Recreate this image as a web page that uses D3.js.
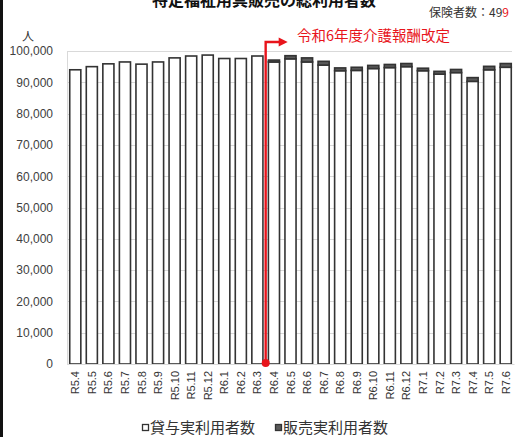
<!DOCTYPE html>
<html lang="ja">
<head>
<meta charset="utf-8">
<script src="https://cdn.jsdelivr.net/npm/d3@7"></script>
<style>
  html, body { margin: 0; padding: 0; background: #fff; }
  svg { display: block; }
</style>
</head>
<body>
<svg id="chart" width="524" height="437"></svg>
<script>
// Months (Reiwa year.month)
const categories = [
  "R5.4","R5.5","R5.6","R5.7","R5.8","R5.9","R5.10","R5.11","R5.12",
  "R6.1","R6.2","R6.3","R6.4","R6.5","R6.6","R6.7","R6.8","R6.9",
  "R6.10","R6.11","R6.12","R7.1","R7.2","R7.3","R7.4","R7.5","R7.6"
];
// 貸与実利用者数 (rental users)
const rentalUsers = [
  94000, 95000, 95900, 96500, 95800, 96500, 97800, 98400, 98700,
  97600, 97600, 98400, 96500, 97500, 96500, 95500, 93700, 93800,
  94400, 94700, 95000, 93700, 92600, 93100, 90300, 94000, 94800
];
// 販売実利用者数 (sales users)
const salesUsers = [
  0, 0, 0, 0, 0, 0, 0, 0, 0,
  0, 0, 0, 600, 1000, 1300, 1200, 900, 1000,
  1000, 1000, 1000, 800, 900, 1000, 1200, 1100, 1200
];
const yTicks = [0, 10000, 20000, 30000, 40000, 50000, 60000, 70000, 80000, 90000, 100000];
const seriesNames = ["貸与実利用者数", "販売実利用者数"];
const revisionMonth = "R6.4";

const JP = "'Noto Sans CJK JP', 'Noto Sans', sans-serif";
const NUM = "'Liberation Sans', Arial, sans-serif";
const RED = "#e8141b";

const svg = d3.select("#chart");

// Left frame edge
svg.append("rect").attr("x", 0).attr("y", 0).attr("width", 3).attr("height", 437).attr("fill", "#111");

// Title (runs off the top edge)
svg.append("text")
  .attr("x", 264).attr("y", 6)
  .attr("text-anchor", "middle")
  .attr("font-family", JP).attr("font-weight", "bold").attr("font-size", 16)
  .attr("fill", "#111")
  .text("特定福祉用具販売の総利用者数");

// Insurer count
const ins = svg.append("text")
  .attr("x", 509).attr("y", 17)
  .attr("text-anchor", "end")
  .attr("font-family", JP).attr("font-size", 12).attr("fill", "#333");
ins.append("tspan").text("保険者数：49");
ins.append("tspan").attr("fill", RED).text("9");

const x = d3.scaleBand().domain(categories).range([67, 514]).paddingInner(0.33).paddingOuter(0.165);
const y = d3.scaleLinear().domain([0, 100000]).range([364, 51]);

// Gridlines
svg.append("g")
  .selectAll("line").data(yTicks).join("line")
  .attr("x1", 67).attr("x2", 512)
  .attr("y1", d => Math.round(y(d)) + 0.5).attr("y2", d => Math.round(y(d)) + 0.5)
  .attr("stroke", "#d9d9d9").attr("stroke-width", 1);
svg.append("line")
  .attr("x1", 67.5).attr("x2", 67.5).attr("y1", y(100000)).attr("y2", y(0))
  .attr("stroke", "#d9d9d9");

// Y axis labels
const yAxis = d3.axisLeft(y).tickValues(yTicks).tickFormat(d3.format(",")).tickSize(0).tickPadding(0);
const gy = svg.append("g").attr("transform", "translate(53,0)").call(yAxis);
gy.select(".domain").remove();
gy.selectAll("text").attr("font-family", NUM).attr("font-size", 12).attr("fill", "#404040");

svg.append("text")
  .attr("x", 28).attr("y", 41)
  .attr("text-anchor", "middle")
  .attr("font-family", JP).attr("font-size", 12).attr("fill", "#333")
  .text("人");

// Stacked bars
const rows = categories.map((c, i) => ({ c, rental: rentalUsers[i], sales: salesUsers[i] }));
const bars = svg.append("g");
bars.selectAll("rect.rental").data(rows).join("rect")
  .attr("class", "rental")
  .attr("x", d => x(d.c)).attr("width", x.bandwidth())
  .attr("y", d => y(d.rental)).attr("height", d => y(0) - y(d.rental))
  .attr("fill", "#fff").attr("stroke", "#333").attr("stroke-width", 1.6);
bars.selectAll("rect.sales").data(rows.filter(d => d.sales > 0)).join("rect")
  .attr("class", "sales")
  .attr("x", d => x(d.c)).attr("width", x.bandwidth())
  .attr("y", d => y(d.rental + d.sales)).attr("height", d => y(d.rental) - y(d.rental + d.sales))
  .attr("fill", "#5a5a5a").attr("stroke", "#333").attr("stroke-width", 1.6);

// X axis labels (rotated)
const xAxis = d3.axisBottom(x).tickSize(0).tickPadding(0);
const gx = svg.append("g").attr("transform", `translate(0,${y(0)})`).call(xAxis);
gx.select(".domain").attr("stroke", "#d9d9d9");
gx.selectAll("text")
  .attr("font-family", NUM).attr("font-size", 11).attr("fill", "#333")
  .attr("text-anchor", "end")
  .attr("transform", "translate(4,7) rotate(-90)")
  .attr("dy", 0).attr("dx", 0).attr("y", 0).attr("x", 0);

// Fee revision marker
const prev = categories[categories.indexOf(revisionMonth) - 1];
const mx = (x(prev) + x(revisionMonth) + x.bandwidth()) / 2;
const topY = 42;
svg.append("path")
  .attr("d", `M${mx},${y(0)} V${topY} H${mx + 14}`)
  .attr("fill", "none").attr("stroke", RED).attr("stroke-width", 2.4);
svg.append("path")
  .attr("d", `M${mx + 13},${topY - 4.5} L${mx + 22},${topY} L${mx + 13},${topY + 4.5} Z`)
  .attr("fill", RED);
svg.append("circle").attr("cx", mx).attr("cy", y(0) - 1).attr("r", 4).attr("fill", RED);
svg.append("text")
  .attr("x", 297).attr("y", 41)
  .attr("font-family", JP).attr("font-size", 14.5).attr("fill", RED)
  .text("令和6年度介護報酬改定");

// Legend
const legend = [
  { name: seriesNames[0], fill: "#fff", mx: 142 },
  { name: seriesNames[1], fill: "#5a5a5a", mx: 275 }
];
const lg = svg.append("g").selectAll("g").data(legend).join("g");
lg.append("rect")
  .attr("x", d => d.mx + 0.5).attr("y", 424.5).attr("width", 6).attr("height", 6)
  .attr("fill", d => d.fill).attr("stroke", "#333").attr("stroke-width", 1.3);
lg.append("text")
  .attr("x", d => d.mx + 8).attr("y", 433)
  .attr("font-family", JP).attr("font-size", 15).attr("fill", "#333")
  .text(d => d.name);
</script>
</body>
</html>
